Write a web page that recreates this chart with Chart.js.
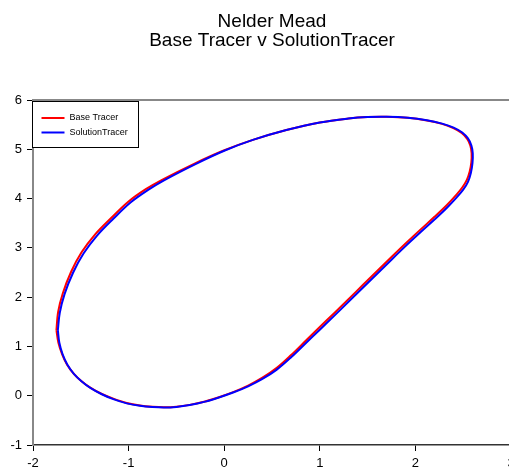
<!DOCTYPE html>
<html>
<head>
<meta charset="utf-8">
<script src="https://cdn.jsdelivr.net/npm/chart.js@4/dist/chart.umd.min.js"></script>
<style>
  html, body { margin: 0; padding: 0; background: #fff; overflow: hidden; }
  #wrap { width: 509px; height: 470px; overflow: hidden; }
</style>
</head>
<body>
<div id="wrap"><canvas id="tracer" width="540" height="470"></canvas></div>
<script>
// 곡선 데이터 (반시계 방향, 왼쪽 끝에서 시작)
const titleLines = ['Nelder Mead', 'Base Tracer v SolutionTracer'];
const seriesNames = ['Base Tracer', 'SolutionTracer'];
const seriesColors = ['#ff0000', '#0000ff'];

const solX = [-1.74, -1.725, -1.69, -1.64, -1.57, -1.49, -1.40, -1.28, -1.16, -1.02, -0.88, -0.75, -0.63, -0.50, -0.36, -0.20, -0.04, 0.10, 0.25, 0.40, 0.55, 0.70, 0.85, 1.00, 1.15, 1.30, 1.45, 1.60, 1.75, 1.90, 2.05, 2.20, 2.33, 2.43, 2.50, 2.55, 2.58, 2.597, 2.60, 2.585, 2.55, 2.49, 2.40, 2.28, 2.12, 1.92, 1.70, 1.50, 1.30, 1.00, 0.65, 0.30, 0.00, -0.30, -0.63, -0.80, -0.98, -1.16, -1.33, -1.47, -1.58, -1.67, -1.72, -1.74];
const solY = [1.33, 1.08, 0.84, 0.63, 0.44, 0.29, 0.16, 0.03, -0.07, -0.155, -0.205, -0.23, -0.24, -0.228, -0.19, -0.12, -0.025, 0.07, 0.19, 0.34, 0.53, 0.78, 1.06, 1.34, 1.62, 1.905, 2.19, 2.475, 2.76, 3.04, 3.31, 3.575, 3.815, 4.02, 4.18, 4.34, 4.52, 4.72, 4.92, 5.08, 5.22, 5.34, 5.44, 5.52, 5.59, 5.64, 5.66, 5.655, 5.625, 5.545, 5.39, 5.19, 4.97, 4.70, 4.37, 4.17, 3.92, 3.59, 3.25, 2.89, 2.50, 2.06, 1.68, 1.33];

const baseX = [-1.755, -1.735, -1.695, -1.645, -1.575, -1.495, -1.405, -1.285, -1.16, -1.02, -0.88, -0.75, -0.63, -0.50, -0.36, -0.20, -0.04, 0.10, 0.25, 0.40, 0.55, 0.70, 0.85, 1.00, 1.15, 1.30, 1.45, 1.60, 1.75, 1.90, 2.05, 2.20, 2.33, 2.425, 2.49, 2.538, 2.568, 2.585, 2.588, 2.575, 2.542, 2.484, 2.397, 2.278, 2.12, 1.92, 1.70, 1.50, 1.30, 1.00, 0.65, 0.30, -0.005, -0.31, -0.645, -0.82, -1.00, -1.18, -1.352, -1.492, -1.6, -1.688, -1.737, -1.755];
const baseY = [1.33, 1.08, 0.84, 0.635, 0.45, 0.30, 0.17, 0.04, -0.06, -0.148, -0.2, -0.225, -0.235, -0.224, -0.186, -0.116, -0.02, 0.078, 0.205, 0.365, 0.565, 0.825, 1.11, 1.395, 1.675, 1.96, 2.245, 2.53, 2.815, 3.095, 3.365, 3.63, 3.87, 4.07, 4.225, 4.38, 4.55, 4.735, 4.92, 5.075, 5.21, 5.33, 5.43, 5.515, 5.585, 5.64, 5.66, 5.655, 5.625, 5.545, 5.39, 5.19, 4.975, 4.71, 4.385, 4.19, 3.94, 3.61, 3.27, 2.91, 2.52, 2.08, 1.70, 1.33];

const xTicks = [-2, -1, 0, 1, 2, 3];
const yTicks = [-1, 0, 1, 2, 3, 4, 5, 6];

const FONT = "'Liberation Sans', Arial, sans-serif";

function toPoints(xs, ys) {
    return xs.map((x, i) => ({ x: x, y: ys[i] }));
}

// 제목: 플롯 영역 기준으로 가운데 정렬
const titlePlugin = {
    id: 'plotTitle',
    afterDraw(chart) {
        const { ctx, chartArea } = chart;
        const cx = (chartArea.left + chartArea.right) / 2;
        ctx.save();
        ctx.fillStyle = '#000';
        ctx.font = '19px ' + FONT;
        ctx.textAlign = 'center';
        ctx.textBaseline = 'alphabetic';
        ctx.fillText(titleLines[0], cx, 27);
        ctx.fillText(titleLines[1], cx, 46);
        ctx.restore();
    }
};

// 위쪽 테두리 + 좌상단 범례 박스
const framePlugin = {
    id: 'frame',
    afterDraw(chart) {
        const { ctx, chartArea } = chart;
        ctx.save();
        ctx.strokeStyle = '#888';
        ctx.lineWidth = 2;
        ctx.beginPath();
        ctx.moveTo(chartArea.left, chartArea.top);
        ctx.lineTo(chartArea.right, chartArea.top);
        ctx.stroke();

        const bx = chartArea.left - 0.5, by = chartArea.top + 1.5;
        ctx.fillStyle = '#fff';
        ctx.fillRect(bx, by, 106, 46);
        ctx.strokeStyle = '#000';
        ctx.lineWidth = 1;
        ctx.strokeRect(bx, by, 106, 46);

        ctx.font = '9px ' + FONT;
        ctx.textBaseline = 'middle';
        ctx.textAlign = 'left';
        seriesNames.forEach((name, i) => {
            const ly = by + 16.5 + i * 14.5;
            ctx.strokeStyle = seriesColors[i];
            ctx.lineWidth = 2;
            ctx.beginPath();
            ctx.moveTo(bx + 9, ly);
            ctx.lineTo(bx + 32, ly);
            ctx.stroke();
            ctx.fillStyle = '#000';
            ctx.fillText(name, bx + 37, ly);
        });
        ctx.restore();
    }
};

new Chart(document.getElementById('tracer'), {
    type: 'scatter',
    data: {
        datasets: [
            {
                label: seriesNames[0],
                data: toPoints(baseX, baseY),
                showLine: true,
                borderColor: seriesColors[0],
                borderWidth: 2,
                pointRadius: 0,
                tension: 0.35,
                order: 1
            },
            {
                label: seriesNames[1],
                data: toPoints(solX, solY),
                showLine: true,
                borderColor: seriesColors[1],
                borderWidth: 2,
                pointRadius: 0,
                tension: 0.35,
                order: 0 // 파란 선이 위에 오도록
            }
        ]
    },
    options: {
        responsive: false,
        animation: false,
        layout: { padding: { top: 100, right: 29, left: 0, bottom: 0 } },
        plugins: {
            legend: { display: false },
            title: { display: false },
            tooltip: { enabled: false }
        },
        scales: {
            x: {
                type: 'linear',
                min: xTicks[0],
                max: xTicks[xTicks.length - 1],
                afterBuildTicks: s => { s.ticks = xTicks.map(v => ({ value: v })); },
                afterFit: s => { s.height = 25; },
                ticks: { color: '#000', font: { family: FONT, size: 13 }, padding: 5, maxRotation: 0 },
                grid: { drawOnChartArea: false, drawTicks: true, tickLength: 6, color: '#000' },
                border: { display: true, color: '#333', width: 1.5 }
            },
            y: {
                type: 'linear',
                min: yTicks[0],
                max: yTicks[yTicks.length - 1],
                afterBuildTicks: s => { s.ticks = yTicks.map(v => ({ value: v })); },
                afterFit: s => { s.width = 33; },
                ticks: { color: '#000', font: { family: FONT, size: 13 }, padding: 5 },
                grid: { drawOnChartArea: false, drawTicks: true, tickLength: 6, color: '#000' },
                border: { display: true, color: '#888', width: 2 }
            }
        }
    },
    plugins: [titlePlugin, framePlugin]
});
</script>
</body>
</html>
